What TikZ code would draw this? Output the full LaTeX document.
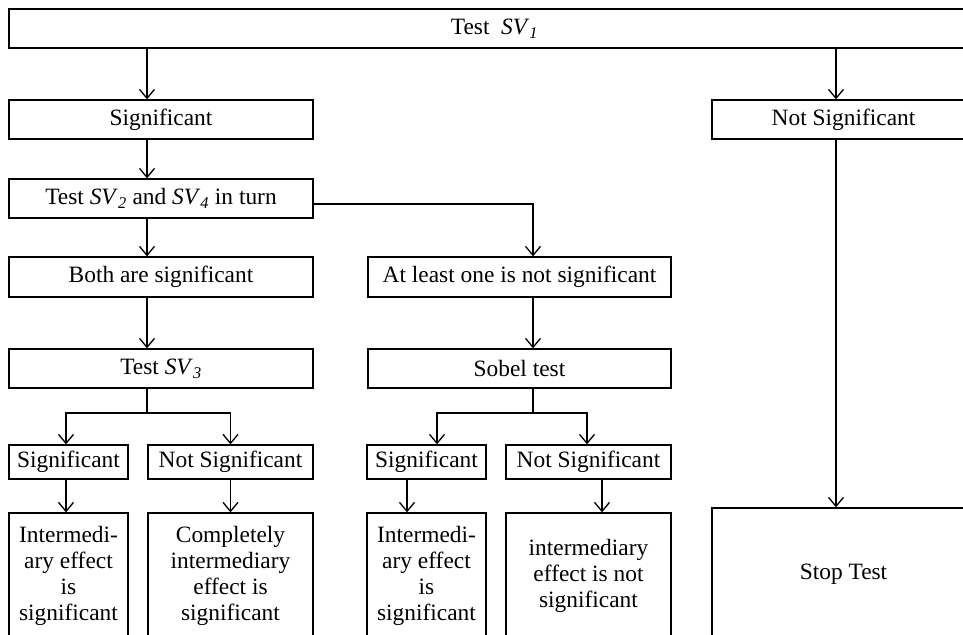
\documentclass[tikz,border=0pt]{standalone}
\usepackage{fontspec}
\setmainfont{Liberation Serif}
\usetikzlibrary{arrows.meta}
\newcommand{\svar}[1]{\textit{SV}\textsubscript{\textit{#1}}}
\tikzset{
  box/.style={draw, line width=1.3pt, inner sep=2pt, align=center, font=\fontsize{23.4}{26}\selectfont},
  arr/.style={line width=1.3pt, -{Straight Barb[length=9pt,width=15pt,line width=1.3pt]}},
  link/.style={line width=1.3pt}
}
\begin{document}
\begin{tikzpicture}[x=1pt,y=-1pt]
	\useasboundingbox (0,0) rectangle (963,634);
	% boxes
	\node[box, minimum width=955pt, minimum height=39pt] (test1) at (486.5,28.5) {\hspace{16pt}Test\ \ \svar{1}};
	\node[box, minimum width=304pt, minimum height=39pt] (sig) at (161,119.5) {Significant};
	\node[box, minimum width=263pt, minimum height=39pt] (notsig) at (843.5,119.5) {Not Significant};
	\node[box, minimum width=304pt, minimum height=39pt] (test24) at (161,198.5) {Test \svar{2} and \svar{4} in turn};
	\node[box, minimum width=304pt, minimum height=40pt] (both) at (161,277) {Both are significant};
	\node[box, minimum width=303pt, minimum height=40pt] (atleast) at (519.5,277) {At least one is not significant};
	\node[box, minimum width=304pt, minimum height=39pt] (test3) at (161,368.5) {Test \svar{3}};
	\node[box, minimum width=303pt, minimum height=39pt] (sobel) at (519.5,368.5) {Sobel test};
	\node[box, minimum width=119pt, minimum height=34pt] (sigA) at (68.5,462) {Significant};
	\node[box, minimum width=165pt, minimum height=34pt] (notsigA) at (230.5,462) {Not Significant};
	\node[box, minimum width=119pt, minimum height=34pt] (sigB) at (426.5,462) {Significant};
	\node[box, minimum width=165pt, minimum height=34pt] (notsigB) at (588.5,462) {Not Significant};
	\node[box, minimum width=119pt, minimum height=126pt] (effA) at (68.5,576) {Intermedi-\\ary effect\\is\\significant};
	\node[box, minimum width=165pt, minimum height=126pt] (effB) at (230.5,576) {Completely\\intermediary\\effect is\\significant};
	\node[box, minimum width=119pt, minimum height=126pt] (effC) at (426.5,576) {Intermedi-\\ary effect\\is\\significant};
	\node[box, minimum width=165pt, minimum height=126pt] (effD) at (588.5,576) {intermediary\\effect is not\\significant};
	\node[box, minimum width=263pt, minimum height=132pt] (stop) at (843.5,574) {Stop Test};
	% connectors
	\coordinate (colA) at (147,0);
	\coordinate (colR) at (836,0);
	\coordinate (turn) at (533,204);
	\coordinate (forkA) at (147,413);
	\coordinate (forkM) at (533,413);
	\draw[arr] (test1.south -| colA) -- (sig.north -| colA);
	\draw[arr] (test1.south -| colR) -- (notsig.north -| colR);
	\draw[arr] (sig.south -| colA) -- (test24.north -| colA);
	\draw[arr] (test24.south -| colA) -- (both.north -| colA);
	\draw[arr] (test24.east |- turn) -- (turn) -- (atleast.north -| turn);
	\draw[arr] (both.south -| colA) -- (test3.north -| colA);
	\draw[arr] (atleast.south -| turn) -- (sobel.north -| turn);
	\draw[arr] (notsig.south -| colR) -- (stop.north -| colR);
	\draw[link] (test3.south -| colA) -- (forkA);
	\draw[arr] (forkA) -| ([xshift=-2.5pt]sigA.north);
	\draw[arr] (forkA) -| (notsigA.north);
	\draw[arr] ([xshift=-2.5pt]sigA.south) -- ([xshift=-2.5pt]effA.north);
	\draw[arr] (notsigA.south) -- (effB.north);
	\draw[link] (sobel.south -| forkM) -- (forkM);
	\draw[arr] (forkM) -| ([xshift=10.5pt]sigB.north);
	\draw[arr] (forkM) -| ([xshift=-1.5pt]notsigB.north);
	\draw[arr] ([xshift=-19.5pt]sigB.south) -- ([xshift=-19.5pt]effC.north);
	\draw[arr] ([xshift=13.5pt]notsigB.south) -- ([xshift=13.5pt]effD.north);
\end{tikzpicture}
\end{document}
